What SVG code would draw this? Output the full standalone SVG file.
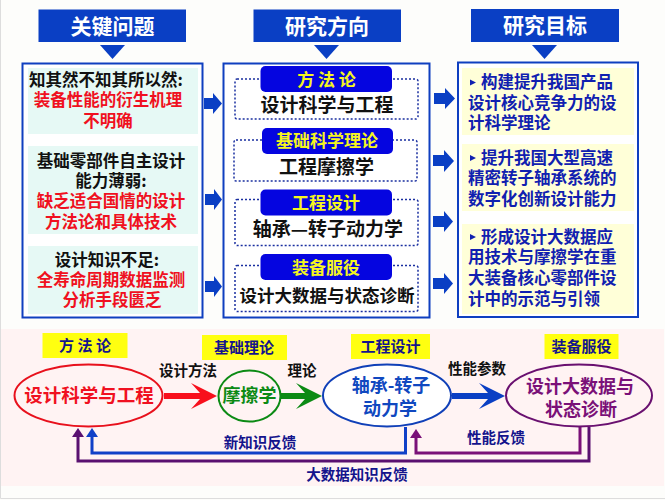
<svg xmlns="http://www.w3.org/2000/svg" width="665" height="500" viewBox="0 0 665 500">
<style>
text{font-family:"Noto Sans CJK SC","Noto Sans",sans-serif;font-weight:700;text-anchor:middle}
.hd{fill:#0a3fc4}
.ht{fill:#fff;font-size:21px}
.pn{fill:#fff;stroke:#0f3fc0;stroke-width:2}
.k{fill:#111;font-size:16.5px}
.r{fill:#f01020;font-size:16.5px}
.b{fill:#1020b0;font-size:16.5px;text-anchor:start}
.dot{fill:#fff;stroke:#1a2fa0;stroke-width:1.5;stroke-dasharray:2 2}
.pill{fill:#0505e0}
.py{fill:#f5f520;font-size:17px}
.m{fill:#111;font-size:19px}
.ya{fill:#ffff10}
.yt{fill:#14148c;font-size:15px}
.lb{fill:#111;font-size:14.5px}
.fb{fill:#14148c;font-size:14.5px}
.arr{fill:#0a3fc4}
.pl{fill:none;stroke-width:3}
</style>
<rect width="665" height="500" fill="#fdfdfb"/>
<rect x="1" y="329" width="663" height="157" fill="#fff3f3"/>
<g id="connectors">
<path class="arr" d="M100 45H125L112.500 59Z"/>
<path class="arr" d="M314 45H339L326.500 59Z"/>
<path class="arr" d="M532 45H557L544.500 59Z"/>
<g id="a-left">
<path class="arr" d="M204 98H213V93L222 103.500L213 114V109H204Z"/>
<path class="arr" d="M205 194H214V189L222 199.500L214 210V205H205Z"/>
<path class="arr" d="M205 281H214V276L222 286.500L214 297V292H205Z"/>
</g>
<g id="a-right">
<path class="arr" d="M434 93H445V88L455 98.500L445 109V104H434Z"/>
<path class="arr" d="M433 155H444V150L454 161L444 172V166H433Z"/>
<path class="arr" d="M433 216H444V211L453 221.500L444 232V227H433Z"/>
<path class="arr" d="M433 278H444V273L453 283.500L444 294V289H433Z"/>
</g>
<path fill="#f80f1c" d="M164 393H200L191 383L217 396L191 409L200 399H164Z"/>
<path fill="#0c8a14" d="M281 393H305L296 383L322 396L296 409L305 399H281Z"/>
<path fill="#0a3fc4" d="M452 393H488L479 383L505 396L479 409L488 399H452Z"/>
<path class="pl" stroke="#1040c8" d="M405.500 427V453H92V432"/>
<path d="M86 437L92 428L98 437Z" fill="#1040c8"/>
<path class="pl" stroke="#5a1070" d="M589 427V461H78V432"/>
<path d="M72 437L78 428L84 437Z" fill="#5a1070"/>
<path class="pl" stroke="#7a1078" d="M580 427V453H416V433"/>
<path d="M410 438L416 429L422 438Z" fill="#7a1078"/>
</g>
<g id="col-problems">
<rect class="hd" x="38.500" y="9.500" width="147.500" height="32.500"/>
<text class="ht" x="112.500" y="33.500">关键问题</text>
<rect class="pn" x="22.500" y="63.500" width="180" height="254"/>
<rect x="28" y="68" width="170" height="66" fill="#e6f9f5"/>
<rect x="28" y="146" width="170" height="88" fill="#e6f9f5"/>
<rect x="28" y="246" width="170" height="68" fill="#e6f9f5"/>
<text class="k" x="106" y="86">知其然不知其所以然:</text>
<text class="r" x="108" y="106">装备性能的衍生机理</text>
<text class="r" x="108" y="127">不明确</text>
<text class="k" x="111" y="167">基础零部件自主设计</text>
<text class="k" x="111" y="187">能力薄弱:</text>
<text class="r" x="111" y="207">缺乏适合国情的设计</text>
<text class="r" x="111" y="228">方法论和具体技术</text>
<text class="k" x="107" y="266">设计知识不足:</text>
<text class="r" x="111" y="286">全寿命周期数据监测</text>
<text class="r" x="112" y="306">分析手段匮乏</text>
</g>
<g id="col-directions">
<rect class="hd" x="253.500" y="9.500" width="147.500" height="32.500"/>
<text class="ht" x="327" y="33.500">研究方向</text>
<rect class="pn" x="223.500" y="63.500" width="206" height="254"/>
</g>
<g id="node-d1">
<rect class="dot" x="235" y="79" width="183" height="40" rx="2"/>
<rect class="pill" x="260.500" y="66" width="131.500" height="26" rx="5"/>
<text class="py" x="326.500" y="85.500">方 法 论</text>
<text class="m" x="327" y="112">设计科学与工程</text>
</g>
<g id="node-d2">
<rect class="dot" x="234" y="140" width="183" height="41" rx="2"/>
<rect class="pill" x="262" y="128" width="131" height="26" rx="5"/>
<text class="py" x="327" y="147">基础科学理论</text>
<text class="m" x="326.500" y="174">工程摩擦学</text>
</g>
<g id="node-d3">
<rect class="dot" x="235" y="199.500" width="183" height="46" rx="2"/>
<rect class="pill" x="260.500" y="189.500" width="131.500" height="26" rx="5"/>
<text class="py" x="326" y="209">工程设计</text>
<text class="m" x="328" y="236">轴承—转子动力学</text>
</g>
<g id="node-d4">
<rect class="dot" x="235" y="265.500" width="183" height="46" rx="2"/>
<rect class="pill" x="260.500" y="254" width="131.500" height="26" rx="5"/>
<text class="py" x="326" y="273.500">装备服役</text>
<text class="m" x="327" y="302" style="font-size:17.500px">设计大数据与状态诊断</text>
</g>
<g id="col-goals">
<rect class="hd" x="471" y="9" width="148" height="33"/>
<text class="ht" x="545" y="33">研究目标</text>
<rect class="pn" x="458" y="62.500" width="180" height="254.500"/>
<rect x="462" y="68" width="172" height="67" fill="#ffffd8"/>
<rect x="462" y="144" width="172" height="67" fill="#ffffd8"/>
<rect x="462" y="224" width="172" height="90" fill="#ffffd8"/>
<path d="M470 79.500L476 82.500L470 85.500Z M470 155L476 158L470 161Z M470 234L476 237L470 240Z" fill="#1020b0"/>
<text class="b" x="481" y="88">构建提升我国产品</text>
<text class="b" x="468" y="109">设计核心竞争力的设</text>
<text class="b" x="468" y="129">计科学理论</text>
<text class="b" x="481" y="164">提升我国大型高速</text>
<text class="b" x="468" y="184">精密转子轴承系统的</text>
<text class="b" x="468" y="205">数字化创新设计能力</text>
<text class="b" x="481" y="243">形成设计大数据应</text>
<text class="b" x="468" y="263">用技术与摩擦学在重</text>
<text class="b" x="468" y="284">大装备核心零部件设</text>
<text class="b" x="468" y="305">计中的示范与引领</text>
</g>
<g id="node-tag1"><rect class="ya" x="42.500" y="333" width="85" height="25"/><text class="yt" x="85" y="351">方 法 论</text></g>
<g id="node-tag2"><rect class="ya" x="202" y="335" width="85" height="25"/><text class="yt" x="244" y="353">基础理论</text></g>
<g id="node-tag3"><rect class="ya" x="351" y="334" width="79" height="25"/><text class="yt" x="390.500" y="352">工程设计</text></g>
<g id="node-tag4"><rect class="ya" x="544.500" y="334" width="74" height="25"/><text class="yt" x="581.500" y="352">装备服役</text></g>
<g id="node-e1">
<ellipse cx="88.500" cy="395.500" rx="74" ry="31" fill="#fff3f3" stroke="#e8101c" stroke-width="2"/>
<text x="89" y="402" fill="#f01020" style="font-size:18.500px">设计科学与工程</text>
</g>
<g id="node-e2">
<ellipse cx="249.500" cy="396" rx="31" ry="25.500" fill="#fff3f3" stroke="#0c8a14" stroke-width="2"/>
<text x="249.500" y="402" fill="#0c8a14" style="font-size:18px">摩擦学</text>
</g>
<g id="node-e3">
<ellipse cx="387" cy="395.500" rx="64" ry="31" fill="#fff" stroke="#1040b8" stroke-width="2"/>
<text x="391" y="392" fill="#1048c0" style="font-size:18px">轴承-转子</text>
<text x="390" y="415" fill="#1048c0" style="font-size:18px">动力学</text>
</g>
<g id="node-e4">
<ellipse cx="579" cy="395.500" rx="73" ry="31" fill="#fff3f3" stroke="#6a1070" stroke-width="2"/>
<text x="580" y="393" fill="#7a1078" style="font-size:18px">设计大数据与</text>
<text x="581" y="416" fill="#7a1078" style="font-size:18px">状态诊断</text>
</g>
<g id="labels">
<text class="lb" x="188" y="376">设计方法</text>
<text class="lb" x="302" y="376">理论</text>
<text class="lb" x="477" y="374">性能参数</text>
<text class="fb" x="260" y="448">新知识反馈</text>
<text class="fb" x="496" y="443">性能反馈</text>
<text class="fb" x="357" y="480">大数据知识反馈</text>
</g>
<path d="M0.500 0V498.500H665" fill="none" stroke="#ddd"/>
</svg>
